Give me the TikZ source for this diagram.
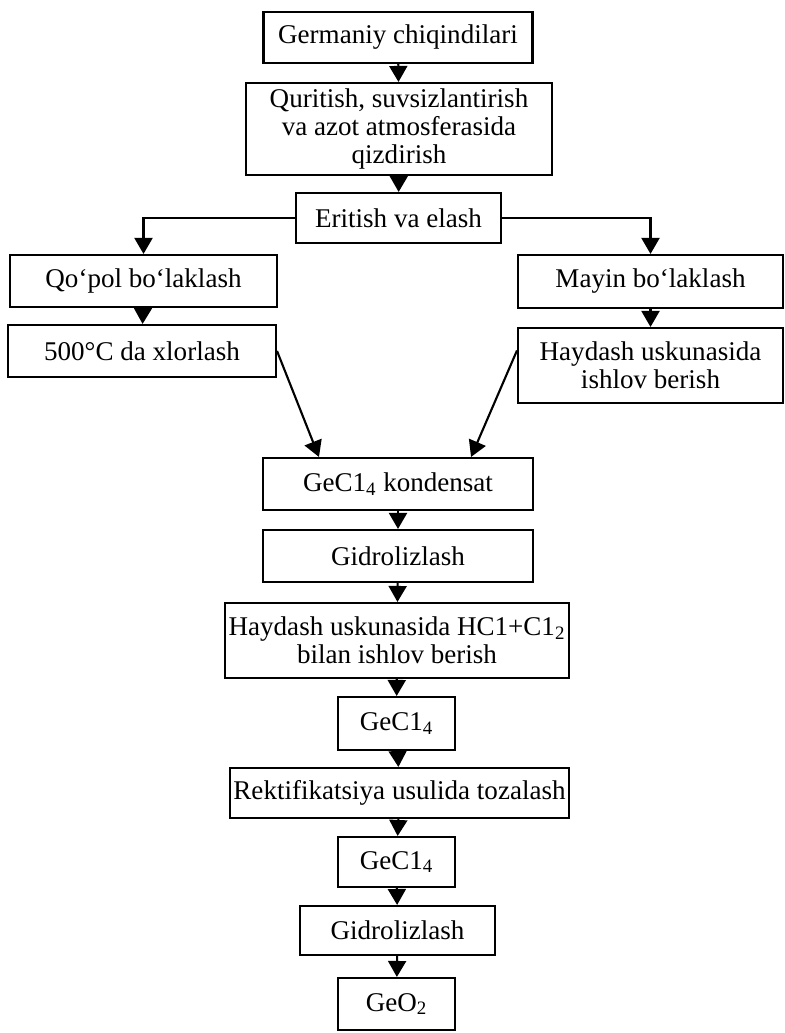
\documentclass[tikz,border=0pt]{standalone}
\usepackage{fontspec}
\setmainfont{Liberation Serif}
\usetikzlibrary{arrows.meta,calc}

\begin{document}
\begin{tikzpicture}[x=0.02cm,y=-0.02cm,
  box/.style={draw,line width=1.2pt,align=center,inner sep=2pt,
    font=\fontsize{15.4}{15.8}\selectfont},
  arr/.style={line width=1.2pt,-{Triangle[width=0.36cm,length=0.32cm]}}]

\useasboundingbox (0,0) rectangle (784,1033);

% Upper column
\node[box,minimum width=5.38cm,minimum height=1.02cm] (waste) at (398,37.5) {Germaniy chiqindilari};
\node[box,minimum width=6.12cm,minimum height=1.84cm] (dry) at (399,129)
  {Quritish, suvsizlantirish\\ va azot atmosferasida\\ qizdirish};
\node[box,minimum width=4.10cm,minimum height=1.00cm] (melt) at (398.5,218) {Eritish va elash};

% Left branch
\node[box,minimum width=5.34cm,minimum height=1.04cm] (coarse) at (143.5,281) {Qo‘pol bo‘laklash};
\node[box,minimum width=5.36cm,minimum height=1.04cm] (chlor) at (142,351) {500°C da xlorlash};

% Right branch
\node[box,minimum width=5.30cm,minimum height=1.06cm] (fine) at (650.5,281.5) {Mayin bo‘laklash};
\node[box,minimum width=5.30cm,minimum height=1.50cm] (still) at (650.5,365.5)
  {Haydash uskunasida\\ ishlov berish};

% Lower column
\node[box,minimum width=5.40cm,minimum height=1.04cm] (cond) at (398,484) {GeC1\textsubscript{4} kondensat};
\node[box,minimum width=5.40cm,minimum height=1.04cm] (hydro) at (398,556) {Gidrolizlash};
\node[box,minimum width=6.84cm,minimum height=1.50cm] (treat) at (397,640.5)
  {Haydash uskunasida HC1+C1\textsubscript{2}\\ bilan ishlov berish};
\node[box,minimum width=2.34cm,minimum height=1.06cm] (gecl) at (396.5,723.5) {GeC1\textsubscript{4}};
\node[box,minimum width=6.62cm,minimum height=1.00cm] (rect) at (399.5,793) {Rektifikatsiya usulida tozalash};
\node[box,minimum width=2.34cm,minimum height=1.00cm] (pure) at (396.5,862) {GeC1\textsubscript{4}};
\node[box,minimum width=3.90cm,minimum height=0.98cm] (hydrob) at (397.5,930.5) {Gidrolizlash};
\node[box,minimum width=2.34cm,minimum height=1.04cm] (oxide) at (396.5,1004) {GeO\textsubscript{2}};

% Arrows
\draw[arr] (waste) -- (dry);
\draw[arr] (dry) -- (melt);
\draw[arr] (melt.west) -| (coarse.north);
\draw[arr] (melt.east) -| (fine.north);
\draw[arr] (coarse) -- (chlor);
\draw[arr] (fine) -- (still);
\draw[arr] (chlor.east) -- ([xshift=1.14cm]cond.north west);
\draw[arr] ([yshift=0.3cm]still.west) -- ([xshift=-1.26cm]cond.north east);
\draw[arr] (cond) -- (hydro);
\draw[arr] (hydro) -- (treat);
\draw[arr] (treat) -- (gecl);
\draw[arr] (gecl) -- (rect);
\draw[arr] (rect) -- (pure);
\draw[arr] (pure) -- (hydrob);
\draw[arr] (hydrob) -- (oxide);

\end{tikzpicture}
\end{document}
